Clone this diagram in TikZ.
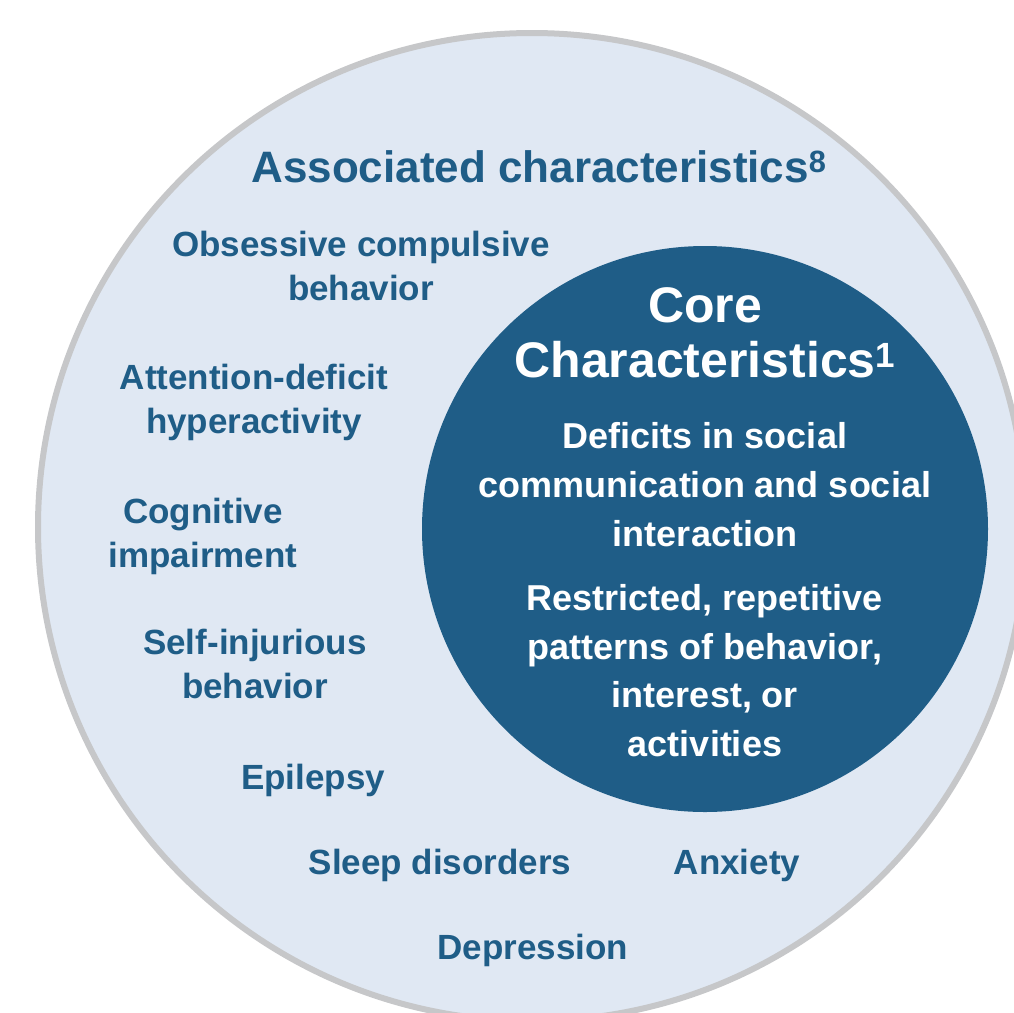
\documentclass[tikz,border=0pt]{standalone}
\usepackage{fontspec}
\setmainfont{Liberation Sans}
\usepackage{xcolor}
\usepackage{tikz}
\definecolor{asdblue}{HTML}{1F5D87}
\definecolor{asdpale}{HTML}{E0E8F3}
\definecolor{asdgray}{HTML}{C6C7C9}
\newcommand{\assocfont}{\fontsize{35}{44}\selectfont\bfseries}

\begin{document}
\begin{tikzpicture}[x=1pt,y=-1pt,
  assoc/.style={asdblue,align=center,font=\assocfont,anchor=base,inner sep=0pt},
  coretext/.style={white,align=center,anchor=base,inner sep=0pt}]
  \useasboundingbox (0,0) rectangle (1013,1013);
  \fill[asdpale,draw=asdgray,line width=6pt] (532,527) circle[radius=494pt];
  \fill[asdblue] (705,529) circle[radius=283pt];
  % base anchor of a multi-line node sits on its last line
  \node[assoc,font=\fontsize{44}{50}\selectfont\bfseries] (assoctitle) at (539,182) {Associated characteristics\textsuperscript{8}};
  \foreach \x/\y/\lab/\nm in {361/300/{Obsessive compulsive\\behavior}/ocd,
      254/433/{Attention-deficit\\hyperactivity}/adhd,
      203/567/{Cognitive\\impairment}/cogn,
      255/698/{Self-injurious\\behavior}/selfinj,
      313/789/{Epilepsy}/epil,
      440/874/{Sleep disorders}/sleep,
      737/874/{Anxiety}/anx,
      533/959/{Depression}/depr}{
    \node[assoc] (\nm) at (\x,\y) {\lab};
  }
  \node[coretext,font=\fontsize{50}{55}\selectfont\bfseries] (coretitle) at (705,377) {Core\\Characteristics\textsuperscript{1}};
  \node[coretext,font=\fontsize{36}{49}\selectfont\bfseries] (deficits) at (705,546) {Deficits in social\\communication and social\\interaction};
  \node[coretext,font=\fontsize{36}{48.5}\selectfont\bfseries] (restricted) at (705,756) {Restricted, repetitive\\patterns of behavior,\\interest, or\\activities};
\end{tikzpicture}
\end{document}
